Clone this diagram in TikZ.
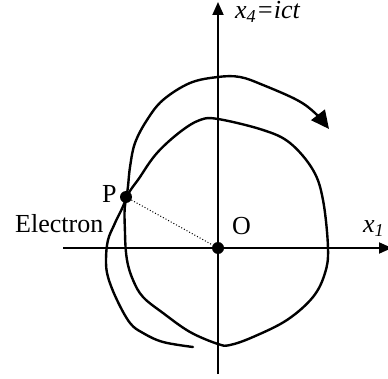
\documentclass[tikz,border=0pt]{standalone}
\usepackage{fontspec}
\setmainfont{Liberation Serif}
\usetikzlibrary{arrows.meta}
\begin{document}
\begin{tikzpicture}[x=1pt,y=-1pt,
  axis/.style={line width=1.8pt,-{Triangle[length=13pt,width=11pt]}},
  curve/.style={line width=2.4pt,line join=round,line cap=round},
  dot/.style={circle,fill=black,inner sep=0pt,minimum size=12pt},
  lbl/.style={font=\fontsize{26}{30}\selectfont,inner sep=0pt}]
\useasboundingbox (0,0) rectangle (388,379);
% axes
\coordinate (xs) at (63,248);
\coordinate (xe) at (392,248);
\coordinate (ys) at (218,374);
\coordinate (ye) at (218,2);
\draw[axis] (xs) -- (xe);
\draw[axis] (ys) -- (ye);
% inner closed loop
\draw[curve] plot[smooth cycle,tension=0.6] coordinates {
 (218,119) (263,130) (290,143) (313,170) (323,200) (328,248) (325,273)
 (313,297) (287,320) (253,337) (230,345) (218,344) (190,332) (163,313)
 (143,297) (133,280) (127,260) (125,233) (126,200) (140,177) (157,153)
 (180,132) (200,120)};
% outer trajectory with arrow
\draw[curve,-{Triangle[length=18pt,width=17pt]}] plot[smooth,tension=0.6] coordinates {
 (193,347) (163,342) (143,333) (130,323) (117,300) (108,277) (106,260)
 (108,240) (115,223) (126,198) (130,167) (135,143) (147,120) (163,100)
 (190,83) (218,77) (240,77) (263,85) (297,100) (315,113) (329,129)};
% points
\node[dot] (P) at (126,197) {};
\node[dot] (O) at (218,248) {};
\draw[line width=1pt,dotted] (P) -- (O);
% labels
\node[lbl,anchor=base west] (lP) at (102,203) {P};
\node[lbl,anchor=base west] (lE) at (15,233) {Electron};
\node[lbl,anchor=base west] (lO) at (232,235) {O};
\node[lbl,anchor=base west] (lx4) at (235,19) {\textit{x\textsubscript{4}=ict}};
\node[lbl,anchor=base west] (lx1) at (363,233) {\textit{x\textsubscript{1}}};
\end{tikzpicture}
\end{document}
